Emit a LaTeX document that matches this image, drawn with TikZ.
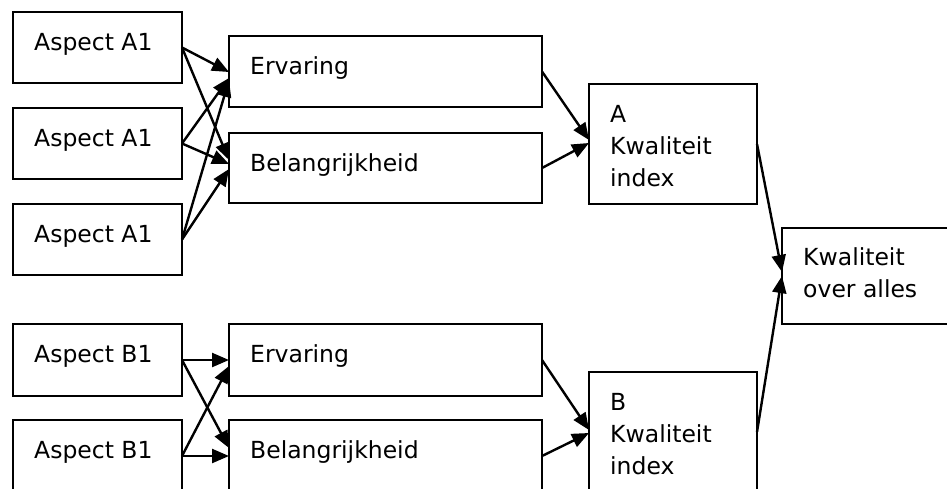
\documentclass[tikz,border=0pt]{standalone}
\usepackage{fontspec}
\setmainfont{DejaVu Sans}
\usetikzlibrary{arrows.meta,calc}
\begin{document}
\begin{tikzpicture}[x=1pt,y=-1pt,
  box/.style={draw,line width=2.4pt,rectangle,inner sep=0pt,outer sep=0pt,anchor=north west},
  lbl/.style={font=\fontsize{23.5}{32}\selectfont,inner sep=0pt,anchor=base west,align=left},
  conn/.style={line width=2.4pt,-{Triangle[length=17pt,width=14pt]}}]
\useasboundingbox (0,0) rectangle (947,488);
% boxes
\node[box,minimum width=169pt,minimum height=71pt] (a1) at (13,12) {};
\node[box,minimum width=169pt,minimum height=71pt] (a2) at (13,108) {};
\node[box,minimum width=169pt,minimum height=71pt] (a3) at (13,204) {};
\node[box,minimum width=169pt,minimum height=72pt] (b1) at (13,324) {};
\node[box,minimum width=169pt,minimum height=72pt] (b2) at (13,420) {};
\node[box,minimum width=313pt,minimum height=71pt] (eA) at (229,36) {};
\node[box,minimum width=313pt,minimum height=70pt] (bA) at (229,133) {};
\node[box,minimum width=313pt,minimum height=72pt] (eB) at (229,324) {};
\node[box,minimum width=313pt,minimum height=72pt] (bB) at (229,420) {};
\node[box,minimum width=168pt,minimum height=120pt] (kA) at (589,84) {};
\node[box,minimum width=168pt,minimum height=120pt] (kB) at (589,372) {};
\node[box,minimum width=180pt,minimum height=96pt] (ko) at (782,228) {};
% labels
\node[lbl] (ta1) at ($(a1.north west)+(21,38)$) {Aspect A1};
\node[lbl] (ta2) at ($(a2.north west)+(21,38)$) {Aspect A1};
\node[lbl] (ta3) at ($(a3.north west)+(21,38)$) {Aspect A1};
\node[lbl] (tb1) at ($(b1.north west)+(21,38)$) {Aspect B1};
\node[lbl] (tb2) at ($(b2.north west)+(21,38)$) {Aspect B1};
\node[lbl] (teA) at ($(eA.north west)+(21,38)$) {Ervaring};
\node[lbl] (tbA) at ($(bA.north west)+(21,38)$) {Belangrijkheid};
\node[lbl] (teB) at ($(eB.north west)+(21,38)$) {Ervaring};
\node[lbl] (tbB) at ($(bB.north west)+(21,38)$) {Belangrijkheid};
\node[lbl] (tkA) at ($(kA.north west)+(21,102)$) {A\\Kwaliteit\\index};
\node[lbl] (tkB) at ($(kB.north west)+(21,102)$) {B\\Kwaliteit\\index};
\node[lbl] (tko) at ($(ko.north west)+(21,69)$) {Kwaliteit\\over alles};
% connectors A
\draw[conn] (a1.east) -- ($(eA.north west)+(0,36)$);
\draw[conn] (a2.east) -- ($(eA.north west)+(0,42)$);
\draw[conn] (a3.east) -- ($(eA.north west)+(0,44)$);
\draw[conn] (a1.east) -- ($(bA.north west)+(0,27)$);
\draw[conn] (a2.east) -- ($(bA.north west)+(0,31)$);
\draw[conn] (a3.east) -- ($(bA.north west)+(0,36)$);
\draw[conn] (eA.east) -- ($(kA.north west)+(0,56)$);
\draw[conn] (bA.east) -- ($(kA.north west)+(0,59)$);
% connectors B
\draw[conn] (b1.east) -- ($(eB.north west)+(0,36)$);
\draw[conn] (b2.east) -- ($(eB.north west)+(0,42)$);
\draw[conn] (b1.east) -- ($(bB.north west)+(0,28)$);
\draw[conn] (b2.east) -- ($(bB.north west)+(0,36)$);
\draw[conn] (eB.east) -- ($(kB.north west)+(0,58)$);
\draw[conn] (bB.east) -- ($(kB.north west)+(0,61)$);
% to final
\draw[conn] (kA.east) -- ($(ko.north west)+(0,44)$);
\draw[conn] (kB.east) -- ($(ko.north west)+(0,48)$);
\end{tikzpicture}
\end{document}
